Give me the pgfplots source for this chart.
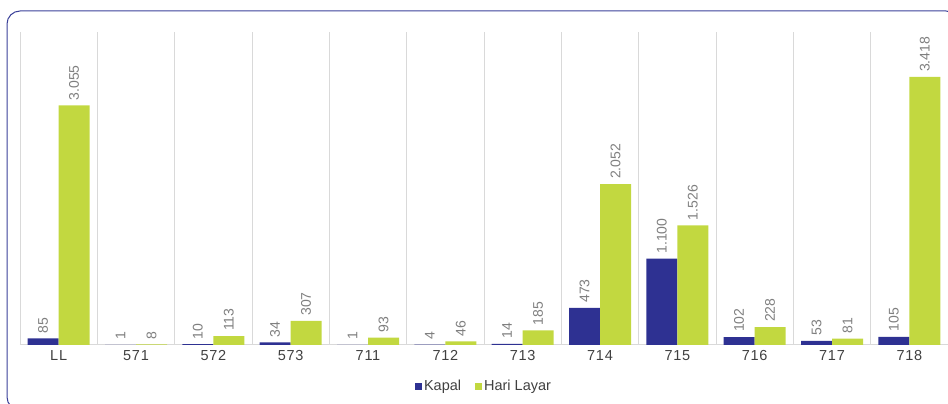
\documentclass[border=0pt]{standalone}
\usepackage{pgfplots}
\pgfplotsset{compat=1.18}
\usepackage{fontspec}
\setmainfont{Liberation Sans}
\newfontfamily\tickfont[LetterSpace=5]{Liberation Sans}
\definecolor{kblue}{HTML}{2E3192}
\definecolor{kgreen}{HTML}{C2D840}
\definecolor{framec}{HTML}{3B4199}
\definecolor{gridc}{HTML}{D9D9D9}
\definecolor{lblc}{HTML}{7F7F7F}
\definecolor{tickc}{HTML}{404040}
\begin{document}
\begin{tikzpicture}[x=1pt,y=1pt]
\useasboundingbox (0,0) rectangle (948,404);
\begin{scope}
\clip (0,0) rectangle (948,404);
\draw[framec, line width=1pt, rounded corners=13pt] (7,393) rectangle (959,-6);
\end{scope}
\begin{axis}[
  at={(20pt,59pt)}, anchor=south west,
  scale only axis, width=928pt, height=313pt,
  ybar=0pt, bar width=31pt,
  xmin=-0.5, xmax=11.5, ymin=0, ymax=3992,
  axis y line=none, axis x line=bottom,
  x axis line style={draw=gridc, line width=1pt, -},
  xtick={0,...,11},
  xticklabels={LL,571,572,573,711,712,713,714,715,716,717,718},
  minor xtick={-0.5,0.5,...,11.5},
  xminorgrids, minor grid style={draw=gridc, line width=0.8pt},
  major tick length=0pt, minor tick length=0pt,
  xticklabel style={font=\tickfont\fontsize{14.5}{16}\selectfont, text=tickc, yshift=-2pt},
  /pgf/number format/.cd, fixed, precision=0, 1000 sep={.}, assume math mode=true,
  /pgfplots/.cd,
  nodes near coords,
  every node near coord/.append style={rotate=90, anchor=west, inner xsep=5pt, inner ysep=0pt,
     font=\fontsize{14}{15}\selectfont, text=lblc},
  legend style={at={(0.5,-0.131)}, anchor=center, draw=none, fill=none, legend columns=2,
     font=\fontsize{14.5}{16}\selectfont, text=tickc,
     /tikz/every even column/.append style={column sep=12pt}},
  legend image code/.code={\fill[#1] (0pt,-3.5pt) rectangle (7pt,3.5pt);},
  clip=false,
]
\addplot[fill=kblue, draw=none] coordinates {(0,85) (1,1) (2,10) (3,34) (4,1) (5,4) (6,14) (7,473) (8,1100) (9,102) (10,53) (11,105)};
\addplot[fill=kgreen, draw=none] coordinates {(0,3055) (1,8) (2,113) (3,307) (4,93) (5,46) (6,185) (7,2052) (8,1526) (9,228) (10,81) (11,3418)};
\legend{Kapal, Hari Layar}
\end{axis}
\end{tikzpicture}
\end{document}
